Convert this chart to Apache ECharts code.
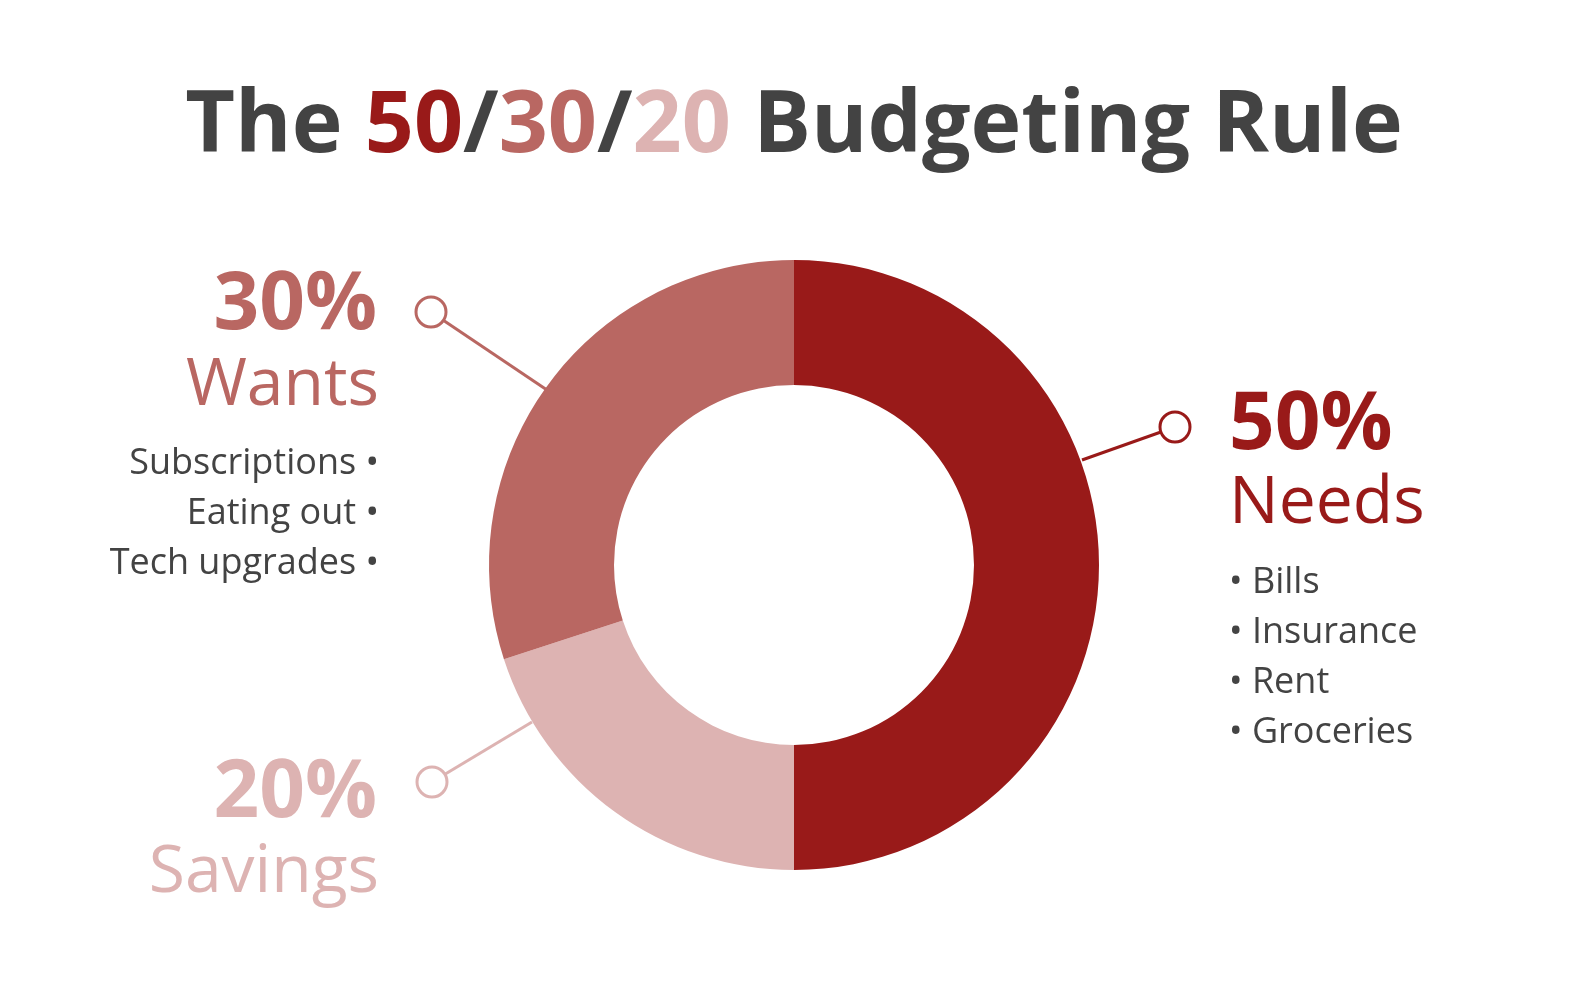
<!DOCTYPE html>
<html><head><meta charset="utf-8">
<script src="https://cdn.jsdelivr.net/npm/echarts@6/dist/echarts.min.js"></script>
<style>html,body{margin:0;padding:0;background:#fff}#c{width:1588px;height:987px}</style>
</head><body><div id="c"></div>
<script>
var categories = ['Needs', 'Savings', 'Wants'];
var values = [50, 20, 30];
var colors = ['#991a19', '#ddb3b2', '#b96762'];
var needsItems = ['Bills', 'Insurance', 'Rent', 'Groceries'];
var wantsItems = ['Subscriptions', 'Eating out', 'Tech upgrades'];
var titleParts = ['The ', '50', '/', '30', '/', '20', ' Budgeting Rule'];

var FONT = "'Open Sans', 'Noto Sans', sans-serif";
var DARK = '#434343';
var cx = 794, cy = 565, R = 305, r0 = 180;

var chart = echarts.init(document.getElementById('c'), null, {renderer: 'canvas'});

function pct(i) { return values[i] + '%'; }

var g = [];
// title
var TS = 86;
g.push({
  type: 'text', left: 'center', top: 84,
  style: {
    text: '{a|' + titleParts[0] + '}{n|' + titleParts[1] + '}{a|' + titleParts[2] + '}{w|' + titleParts[3] + '}{a|' + titleParts[4] + '}{s|' + titleParts[5] + '}{a|' + titleParts[6] + '}',
    rich: {
      a: {fontFamily: FONT, fontWeight: 'bold', fontSize: TS, fill: DARK},
      n: {fontFamily: FONT, fontWeight: 'bold', fontSize: TS, fill: colors[0]},
      w: {fontFamily: FONT, fontWeight: 'bold', fontSize: TS, fill: colors[2]},
      s: {fontFamily: FONT, fontWeight: 'bold', fontSize: TS, fill: colors[1]}
    }
  }
});

function txt(x, y, s, size, weight, color, align) {
  g.push({type: 'text', x: x, y: y, style: {text: s, fontFamily: FONT, fontSize: size, fontWeight: weight, fill: color, align: align, verticalAlign: 'middle'}});
}
function leader(x1, y1, x2, y2, color) {
  g.push({type: 'line', shape: {x1: x1, y1: y1, x2: x2, y2: y2}, style: {stroke: color, lineWidth: 3}});
  g.push({type: 'circle', shape: {cx: x1, cy: y1, r: 15}, style: {fill: '#fff', stroke: color, lineWidth: 3}, z: 10});
}

// Needs (right)
txt(1229, 426, pct(0), 80, 'bold', colors[0], 'left');
txt(1229, 504, categories[0], 66, 'normal', colors[0], 'left');
needsItems.forEach(function (t, i) {
  txt(1229, 583 + i * 50, '\u2022 ' + t, 36, 'normal', DARK, 'left');
});
// Wants (left top)
txt(377, 306, pct(2), 80, 'bold', colors[2], 'right');
txt(379, 386, categories[2], 66, 'normal', colors[2], 'right');
wantsItems.forEach(function (t, i) {
  txt(379, 464 + i * 50, t + ' \u2022', 36, 'normal', DARK, 'right');
});
// Savings (left bottom)
txt(377, 794, pct(1), 80, 'bold', colors[1], 'right');
txt(379, 873, categories[1], 66, 'normal', colors[1], 'right');

leader(431, 312, 547, 390, colors[2]);
leader(1175, 427, 1082, 460, colors[0]);
leader(432, 782, 532, 722, colors[1]);

chart.setOption({
  animation: false,
  backgroundColor: '#fff',
  series: [{
    type: 'pie',
    center: [cx, cy],
    radius: [r0, R],
    startAngle: 90,
    clockwise: true,
    silent: true,
    label: {show: false},
    labelLine: {show: false},
    itemStyle: {borderWidth: 0},
    data: categories.map(function (c, i) { return {name: c, value: values[i], itemStyle: {color: colors[i]}}; })
  }],
  graphic: g
});
</script></body></html>
